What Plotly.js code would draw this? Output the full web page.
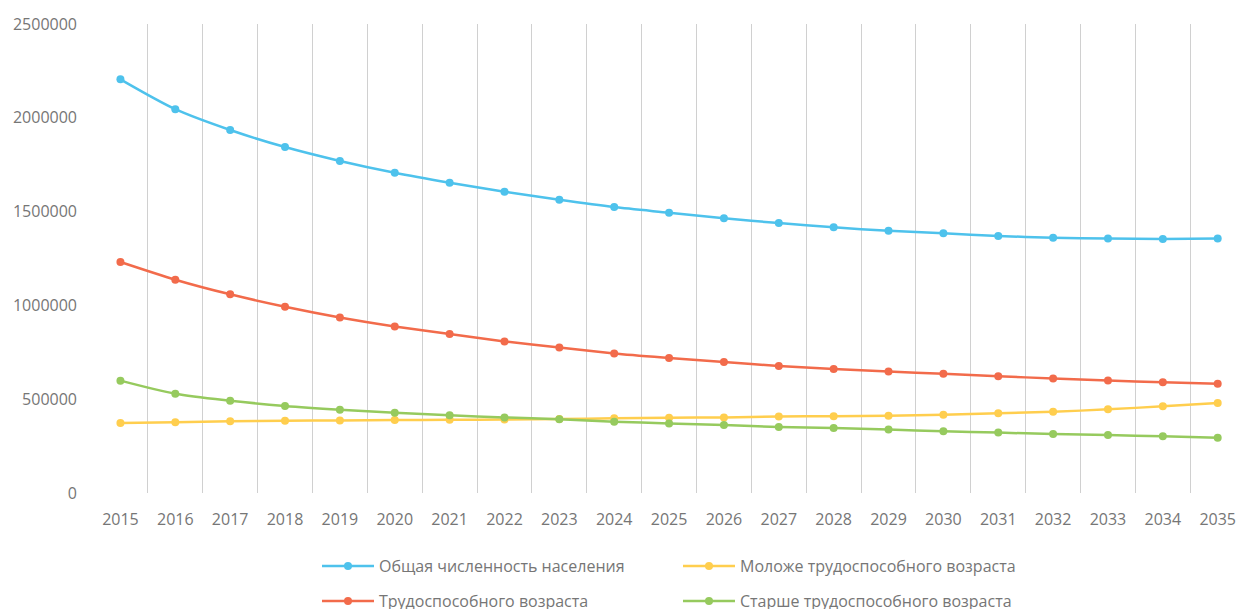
<!DOCTYPE html>
<html>
<head>
<meta charset="utf-8">
<script src="https://cdn.plot.ly/plotly-3.0.1.min.js"></script>
<style>html,body{margin:0;padding:0;background:#fff;}#chart{width:1238px;height:609px;}</style>
</head>
<body>
<div id="chart"></div>
<script>
const years = ['2015','2016','2017','2018','2019','2020','2021','2022','2023','2024','2025','2026','2027','2028','2029','2030','2031','2032','2033','2034','2035'];
const seriesNames = ['Общая численность населения','Трудоспособного возраста','Моложе трудоспособного возраста','Старше трудоспособного возраста'];
const total = [2205000,2046000,1935000,1844000,1770000,1707000,1654000,1606000,1563000,1524000,1494000,1464000,1439000,1416000,1398000,1384000,1370000,1361000,1356000,1354000,1356000];
const working = [1231000,1137000,1059000,993000,936000,888000,847000,808000,775000,744000,720000,698000,677000,661000,647000,636000,622000,611000,600000,590000,583000];
const younger = [373000,377000,382000,385000,387000,389000,390000,392000,394000,398000,401000,403000,408000,409000,412000,417000,425000,433000,446000,462000,480000];
const older = [599000,529000,492000,464000,444000,428000,414000,403000,393000,380000,371000,362000,352000,346000,338000,329000,322000,314000,309000,302000,295000];

const colors = ['#4EC2EC','#F26B4B','#FFCE4E','#96CA5E'];
const values = [total, working, younger, older];
const legendIds = ['legend','legend2','legend','legend2'];

const traces = values.map((v,i)=>({
  x: years, y: v, name: seriesNames[i], type:'scatter', mode:'lines+markers',
  line:{color:colors[i], width:2.5, shape:'spline', smoothing:0.8},
  marker:{color:colors[i], size:8},
  legend: legendIds[i]
}));

const fontFam = '"Open Sans", "Noto Sans", sans-serif';
const gray = '#767676';
const legendCommon = {
  orientation:'h', xref:'container', yref:'container', xanchor:'left', yanchor:'middle',
  x: 317/1238, entrywidth:294, entrywidthmode:'pixels', itemwidth:52,
  font:{family:fontFam, size:16, color:gray}, bgcolor:'rgba(0,0,0,0)', borderwidth:0,
  tracegroupgap:0
};

const layout = {
  width:1238, height:609,
  margin:{l:93, r:0, t:24, b:116},
  paper_bgcolor:'#fff', plot_bgcolor:'#fff',
  font:{family:fontFam, size:16, color:gray},
  showlegend:true,
  xaxis:{type:'category', range:[-0.5, 20.37], showgrid:true, tickson:'boundaries',
    gridcolor:'#D0D0D0', gridwidth:1, ticks:'', showline:false, zeroline:false,
    tickfont:{family:fontFam, size:16, color:gray}, ticklabelstandoff:15, fixedrange:true},
  yaxis:{range:[0,2500000], dtick:500000, tickformat:'d', showgrid:false, zeroline:false,
    showline:false, ticks:'', tickfont:{family:fontFam, size:16, color:gray}, ticklabelstandoff:15, fixedrange:true},
  legend: Object.assign({}, legendCommon, {y: 1-566/609}),
  legend2: Object.assign({}, legendCommon, {y: 1-601/609})
};

Plotly.newPlot('chart', traces, layout, {displayModeBar:false, staticPlot:true});
</script>
</body>
</html>
